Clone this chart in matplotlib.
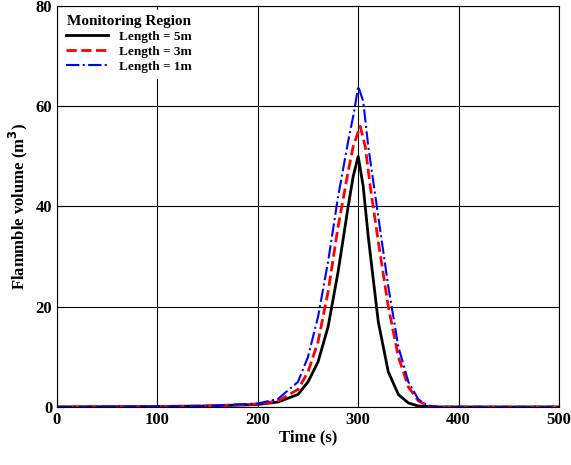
import matplotlib
matplotlib.use("Agg")
import matplotlib.pyplot as plt

t5 = [0, 100, 150, 200, 220, 240, 250, 260, 270, 280, 290, 295, 300, 305, 310, 320, 330, 340, 350, 360, 380, 500]
v5 = [0, 0.1, 0.2, 0.5, 1.0, 2.5, 5, 9, 16, 27, 40, 46, 50, 44, 34, 17, 7, 2.5, 0.8, 0.2, 0, 0]
t3 = [0, 100, 150, 200, 220, 240, 250, 260, 270, 280, 290, 295, 302, 307, 312, 320, 330, 340, 350, 360, 370, 380, 500]
v3 = [0, 0.1, 0.2, 0.6, 1.2, 3.5, 7, 13, 23, 36, 47, 52, 56, 52, 44, 33, 20, 10, 4, 1.2, 0.2, 0, 0]
t1 = [0, 100, 150, 200, 220, 240, 250, 260, 270, 280, 290, 296, 300, 305, 310, 320, 330, 340, 350, 360, 370, 380, 500]
v1 = [0, 0.1, 0.2, 0.7, 1.6, 5.0, 10, 18, 29, 42, 53, 59, 64, 61, 52, 38, 24, 12, 5, 1.5, 0.2, 0, 0]

plt.rcParams['font.family'] = ['Liberation Serif']
plt.rcParams['font.weight'] = 'bold'
fig = plt.figure(figsize=(5.71, 4.65), dpi=100)
ax = fig.add_axes([57/571, 58/465, 502/571, 401/465])
ax.plot(t5, v5, color='black', lw=2, ls='-', label='Length = 5m')
ax.plot(t3, v3, color='red', lw=2, ls='--', label='Length = 3m')
ax.plot(t1, v1, color='blue', lw=1.5, ls='-.', label='Length = 1m')
ax.set_xlim(0, 500)
ax.set_ylim(0, 80)
ax.set_xticks(range(0, 501, 100))
ax.set_yticks(range(0, 81, 20))
ax.grid(True, color='black', lw=0.8)
ax.tick_params(direction='in', labelsize=12, length=4)
for lab in ax.get_xticklabels() + ax.get_yticklabels():
    lab.set_fontweight('bold')
ax.set_xlabel('Time (s)', fontsize=12, fontweight='bold', labelpad=1)
ax.set_ylabel('Flammble volume (m$^\\mathbf{3}$)', fontsize=12, fontweight='bold', labelpad=4)
leg = ax.legend(loc='upper left', title='Monitoring Region', fontsize=9.5, frameon=True,
                fancybox=False, edgecolor='white', framealpha=1, handlelength=3.2,
                borderaxespad=0.3, labelspacing=0.2)
leg.get_title().set_fontweight('bold')
leg.get_title().set_fontsize(11)
for tx in leg.get_texts():
    tx.set_fontweight('bold')
fig.savefig('out.png', dpi=100)
